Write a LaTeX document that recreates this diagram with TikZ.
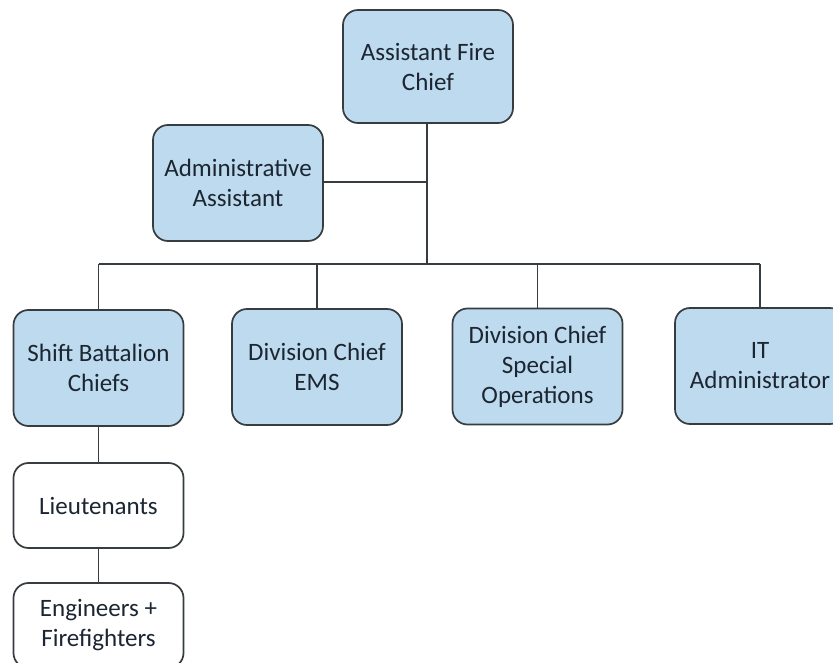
\documentclass[tikz,border=0pt]{standalone}
\usepackage{fontspec}
\setmainfont{Carlito}
\usetikzlibrary{positioning}
\definecolor{boxblue}{RGB}{190,218,238}
\definecolor{boxline}{RGB}{55,60,64}
\definecolor{boxtext}{RGB}{28,38,50}
\begin{document}
\begin{tikzpicture}[x=1pt, y=-1pt,
  office/.style={draw=boxline, line width=1.7pt, rounded corners=15pt, fill=boxblue,
    text=boxtext, align=center, inner sep=0pt, minimum width=170pt, minimum height=116pt,
    font=\fontsize{25}{30}\selectfont},
  crew/.style={office, fill=white, minimum height=85pt},
  link/.style={draw=boxline, line width=1.8pt}]
\clip (0,0) rectangle (833,663);
\fill[white] (0,0) rectangle (833,663);
\node [office, minimum height=113pt] (afc) at (428,66.5) {Assistant Fire\\Chief};
\node [office] (admin) at (238,183) {Administrative\\Assistant};
\node [office] (sbc) at (98.5,368) {Shift Battalion\\Chiefs};
\node [office] (ems) at (317,367) {Division Chief\\EMS};
\node [office] (specops) at (537.5,366.5) {Division Chief\\Special\\Operations};
\node [office] (it) at (760,366) {IT\\Administrator};
\node [crew] (lt) at (98.5,505.5) {Lieutenants};
\node [crew] (eng) at (98.5,625.5) {Engineers +\\Firefighters};
\coordinate (hub) at (427,264);
% chain of command
\draw [link] (afc.south -| hub) -- (hub);
\draw [link] (admin.east |- 0,182) -- (hub |- 0,182);
\draw [link] (sbc.north |- hub) -- (it.north |- hub);
\foreach \n in {sbc, ems, specops, it}
  \draw [link] (\n.north |- hub) -- (\n.north);
\draw [link] (sbc) -- (lt);
\draw [link] (lt) -- (eng);
\end{tikzpicture}
\end{document}
